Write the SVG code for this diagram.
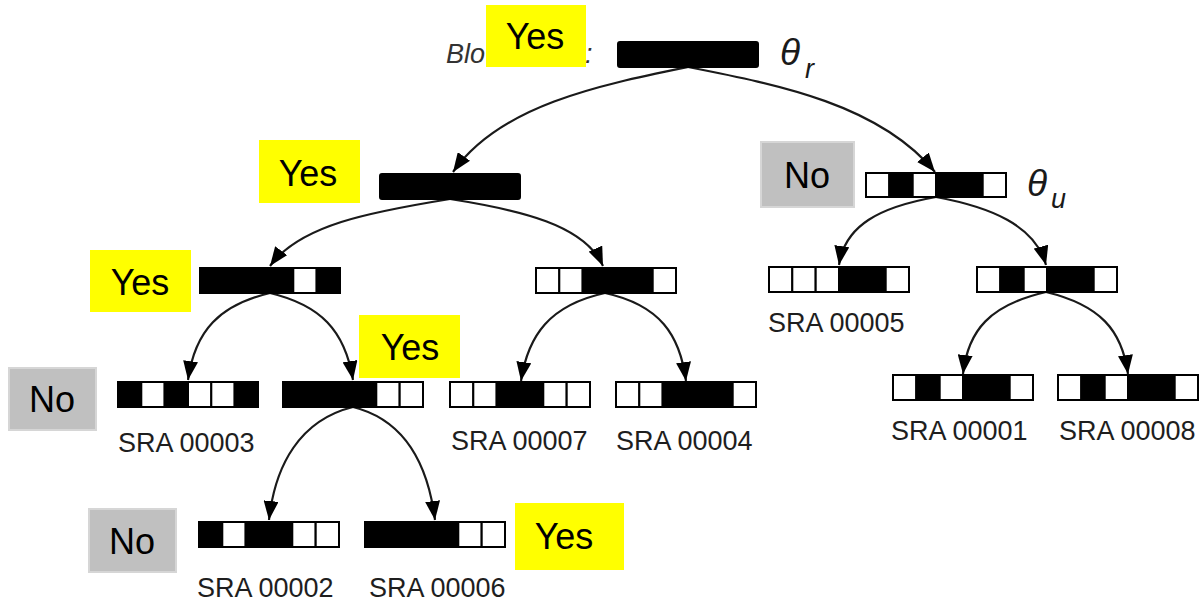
<svg xmlns="http://www.w3.org/2000/svg" width="1201" height="603" viewBox="0 0 1201 603">
  <style>
    .b { fill: #000; stroke: #000; stroke-width: 2; }
    .w { fill: #fff; stroke: #000; stroke-width: 2; }
    .edge { fill: none; stroke: #1a1a1a; stroke-width: 2.2; marker-end: url(#arrow); }
    .sra { font-family: "Liberation Sans", Arial, sans-serif; font-size: 27px; fill: #1e1e1e; }
    .tag { font-family: "Liberation Sans", Arial, sans-serif; font-size: 36px; fill: #000; text-anchor: middle; }
    .yes { fill: #ffff00; }
    .no { fill: #c0c0c0; stroke: #d6d6d6; stroke-width: 2; }
    .theta { font-family: "Liberation Sans", Arial, sans-serif; font-style: italic; fill: #1a1a1a; }
    .cap { font-family: "Liberation Sans", Arial, sans-serif; font-style: italic; font-size: 27px; fill: #333; }
  </style>
  <defs>
    <marker id="arrow" markerUnits="userSpaceOnUse" markerWidth="19" markerHeight="15" refX="19" refY="7.5" orient="auto">
      <path d="M0,0 L19,7.5 L0,15 z" fill="#000"/>
    </marker>
  </defs>
  <rect width="1201" height="603" fill="#fff"/>

  <!-- connectors -->
  <g id="edges">
    <path class="edge" d="M688,67 C600,85 500,105 453,172"/>
    <path class="edge" d="M688,67 C780,85 880,105 935,172"/>
    <path class="edge" d="M450,199 C370,212 300,225 270,266"/>
    <path class="edge" d="M450,199 C520,210 585,225 603,266"/>
    <path class="edge" d="M936,197 C880,207 845,225 839,265"/>
    <path class="edge" d="M936,197 C990,207 1035,225 1046,265"/>
    <path class="edge" d="M270,293 C220,305 195,330 188,380"/>
    <path class="edge" d="M270,293 C320,305 345,330 353,380"/>
    <path class="edge" d="M353,407 C300,420 275,465 269,520"/>
    <path class="edge" d="M353,407 C405,420 428,465 435,520"/>
    <path class="edge" d="M605,293 C550,305 528,335 521,381"/>
    <path class="edge" d="M605,293 C660,305 680,335 686,381"/>
    <path class="edge" d="M1046,292 C990,305 968,330 963,374"/>
    <path class="edge" d="M1046,292 C1100,305 1122,330 1128,374"/>
  </g>

  <!-- root filter -->
  <g id="root">
    <text class="cap" x="446" y="63">Blo</text>
    <text class="cap" x="585" y="63">:</text>
    <rect class="b" x="618" y="42" width="140" height="25" rx="2"/>
    <text class="theta" x="780" y="65" font-size="37">θ</text>
    <text class="theta" x="805" y="78" font-size="27">r</text>
  </g>

  <g id="node-l">
    <rect class="b" x="380" y="174" width="140" height="25" rx="2"/>
  </g>

  <g id="node-r">
    <rect class="w" x="866" y="173" width="23.3" height="24"/>
    <rect class="b" x="889.3" y="173" width="23.3" height="24"/>
    <rect class="w" x="912.7" y="173" width="23.3" height="24"/>
    <rect class="b" x="936" y="173" width="46.7" height="24"/>
    <rect class="w" x="982.7" y="173" width="23.3" height="24"/>
    <text class="theta" x="1027" y="196" font-size="37">θ</text>
    <text class="theta" x="1051" y="208" font-size="27">u</text>
  </g>

  <g id="node-ll">
    <rect class="b" x="200" y="268" width="93.3" height="25"/>
    <rect class="w" x="293.3" y="268" width="23.3" height="25"/>
    <rect class="b" x="316.7" y="268" width="23.3" height="25"/>
  </g>

  <g id="node-lr">
    <rect class="w" x="536" y="268" width="23.3" height="25"/>
    <rect class="w" x="559.3" y="268" width="23.3" height="25"/>
    <rect class="b" x="582.7" y="268" width="70" height="25"/>
    <rect class="w" x="652.7" y="268" width="23.3" height="25"/>
  </g>

  <g id="node-rl">
    <rect class="w" x="769" y="267" width="23.3" height="25"/>
    <rect class="w" x="792.3" y="267" width="23.3" height="25"/>
    <rect class="w" x="815.7" y="267" width="23.3" height="25"/>
    <rect class="b" x="839" y="267" width="46.7" height="25"/>
    <rect class="w" x="885.7" y="267" width="23.3" height="25"/>
    <text class="sra" x="768" y="332">SRA 00005</text>
  </g>

  <g id="node-rr">
    <rect class="w" x="977" y="267" width="23.3" height="25"/>
    <rect class="b" x="1000.3" y="267" width="23.3" height="25"/>
    <rect class="w" x="1023.7" y="267" width="23.3" height="25"/>
    <rect class="b" x="1047" y="267" width="46.7" height="25"/>
    <rect class="w" x="1093.7" y="267" width="23.3" height="25"/>
  </g>

  <g id="sra-00003">
    <rect class="b" x="118" y="382" width="23.3" height="25"/>
    <rect class="w" x="141.3" y="382" width="23.3" height="25"/>
    <rect class="b" x="164.7" y="382" width="23.3" height="25"/>
    <rect class="w" x="188" y="382" width="23.3" height="25"/>
    <rect class="w" x="211.3" y="382" width="23.3" height="25"/>
    <rect class="b" x="234.7" y="382" width="23.3" height="25"/>
    <text class="sra" x="118" y="452">SRA 00003</text>
  </g>

  <g id="node-llr">
    <rect class="b" x="283" y="382" width="93.3" height="25"/>
    <rect class="w" x="376.3" y="382" width="23.3" height="25"/>
    <rect class="w" x="399.7" y="382" width="23.3" height="25"/>
  </g>

  <g id="sra-00007">
    <rect class="w" x="450" y="382" width="23.3" height="25"/>
    <rect class="w" x="473.3" y="382" width="23.3" height="25"/>
    <rect class="b" x="496.7" y="382" width="46.7" height="25"/>
    <rect class="w" x="543.3" y="382" width="23.3" height="25"/>
    <rect class="w" x="566.7" y="382" width="23.3" height="25"/>
    <text class="sra" x="451" y="450">SRA 00007</text>
  </g>

  <g id="sra-00004">
    <rect class="w" x="616" y="382" width="23.3" height="25"/>
    <rect class="w" x="639.3" y="382" width="23.3" height="25"/>
    <rect class="b" x="662.7" y="382" width="70" height="25"/>
    <rect class="w" x="732.7" y="382" width="23.3" height="25"/>
    <text class="sra" x="616" y="450">SRA 00004</text>
  </g>

  <g id="sra-00001">
    <rect class="w" x="893" y="375" width="23.3" height="25"/>
    <rect class="b" x="916.3" y="375" width="23.3" height="25"/>
    <rect class="w" x="939.7" y="375" width="23.3" height="25"/>
    <rect class="b" x="963" y="375" width="46.7" height="25"/>
    <rect class="w" x="1009.7" y="375" width="23.3" height="25"/>
    <text class="sra" x="891" y="440">SRA 00001</text>
  </g>

  <g id="sra-00008">
    <rect class="w" x="1058" y="375" width="23.3" height="25"/>
    <rect class="b" x="1081.3" y="375" width="23.3" height="25"/>
    <rect class="w" x="1104.7" y="375" width="23.3" height="25"/>
    <rect class="b" x="1128" y="375" width="46.7" height="25"/>
    <rect class="w" x="1174.7" y="375" width="23.3" height="25"/>
    <text class="sra" x="1059" y="440">SRA 00008</text>
  </g>

  <g id="sra-00002">
    <rect class="b" x="199" y="522" width="23.3" height="25"/>
    <rect class="w" x="222.3" y="522" width="23.3" height="25"/>
    <rect class="b" x="245.7" y="522" width="46.7" height="25"/>
    <rect class="w" x="292.3" y="522" width="23.3" height="25"/>
    <rect class="w" x="315.7" y="522" width="23.3" height="25"/>
    <text class="sra" x="197" y="597">SRA 00002</text>
  </g>

  <g id="sra-00006">
    <rect class="b" x="365" y="522" width="93.3" height="25"/>
    <rect class="w" x="458.3" y="522" width="23.3" height="25"/>
    <rect class="w" x="481.7" y="522" width="23.3" height="25"/>
    <text class="sra" x="369" y="597">SRA 00006</text>
  </g>

  <!-- match / no-match tags -->
  <g id="tag-yes-root">
    <rect class="yes" x="486" y="5" width="100" height="62"/>
    <text class="tag" x="535" y="49">Yes</text>
  </g>
  <g id="tag-yes-l">
    <rect class="yes" x="259" y="140" width="101" height="63"/>
    <text class="tag" x="308" y="186">Yes</text>
  </g>
  <g id="tag-no-r">
    <rect class="no" x="761" y="142" width="93" height="65"/>
    <text class="tag" x="807" y="188">No</text>
  </g>
  <g id="tag-yes-ll">
    <rect class="yes" x="90" y="250" width="101" height="62"/>
    <text class="tag" x="140" y="295">Yes</text>
  </g>
  <g id="tag-yes-llr">
    <rect class="yes" x="359" y="315" width="101" height="63"/>
    <text class="tag" x="410" y="360">Yes</text>
  </g>
  <g id="tag-no-00003">
    <rect class="no" x="9" y="368" width="87" height="62"/>
    <text class="tag" x="52" y="412">No</text>
  </g>
  <g id="tag-no-00002">
    <rect class="no" x="89" y="509" width="87" height="63"/>
    <text class="tag" x="132" y="554">No</text>
  </g>
  <g id="tag-yes-00006">
    <rect class="yes" x="515" y="503" width="109" height="67"/>
    <text class="tag" x="564" y="549">Yes</text>
  </g>
</svg>
